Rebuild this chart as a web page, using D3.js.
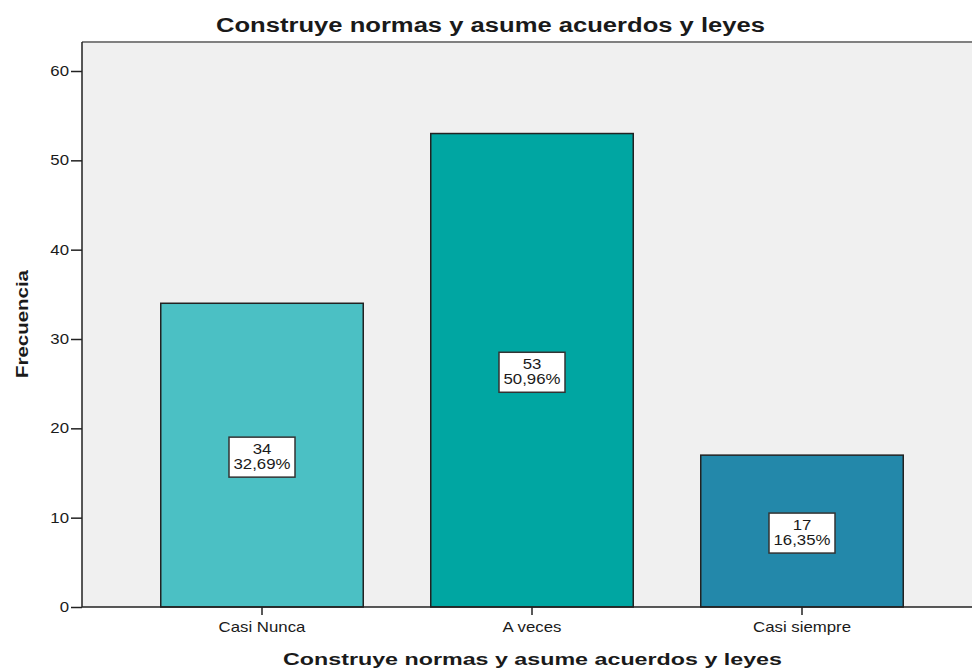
<!DOCTYPE html>
<html>
<head>
<meta charset="utf-8">
<script src="https://cdn.jsdelivr.net/npm/d3@7"></script>
<style>
  body { margin: 0; background: #fff; }
  svg text { font-family: "Liberation Sans", Arial, sans-serif; fill: #1a1a1a; }
</style>
</head>
<body>
<div id="graph"></div>
<script>
var categories = ["Casi Nunca", "A veces", "Casi siempre"];
var counts = [34, 53, 17];
var percents = ["32,69%", "50,96%", "16,35%"];
var colors = ["#4bc0c4", "#00a6a2", "#2388aa"];
var yTicks = [0, 10, 20, 30, 40, 50, 60];

var width = 972, height = 670;
var plotLeft = 82, plotTop = 42, plotBottom = 607;
var stretch = 1.2; // the reference text is widened a bit

var chart = d3.select("#graph").append("svg")
    .attr("width", width)
    .attr("height", height);

var x = d3.scaleBand()
    .domain(categories)
    .range([127, 937])
    .paddingInner(0.25)
    .paddingOuter(0.125);

var y = d3.scaleLinear()
    .domain([0, 60])
    .range([plotBottom, 71]);

// plot background
chart.append("rect")
    .attr("x", plotLeft).attr("y", plotTop)
    .attr("width", width - plotLeft).attr("height", plotBottom - plotTop)
    .attr("fill", "#f0f0f0");

// top border
chart.append("line")
    .attr("x1", plotLeft).attr("x2", width)
    .attr("y1", plotTop).attr("y2", plotTop)
    .attr("stroke", "#808080").attr("stroke-width", 2);

// bars
chart.selectAll("rect.bar")
    .data(counts)
    .enter()
    .append("rect")
    .attr("class", "bar")
    .attr("x", function(d, i) { return x(categories[i]); })
    .attr("y", function(d) { return y(d); })
    .attr("width", x.bandwidth())
    .attr("height", function(d) { return y(0) - y(d); })
    .attr("fill", function(d, i) { return colors[i]; })
    .attr("stroke", "#222")
    .attr("stroke-width", 1.5);

// y axis
var yAxis = chart.append("g")
    .attr("transform", "translate(" + plotLeft + ",0)")
    .call(d3.axisLeft(y).tickValues(yTicks).tickSize(11).tickPadding(2));
yAxis.select(".domain").attr("d", "M0," + plotTop + "V" + plotBottom);
yAxis.selectAll("line, path").attr("stroke", "#222").attr("stroke-width", 1.5);
yAxis.selectAll("text")
    .attr("font-size", "14px")
    .attr("font-family", "Liberation Sans, Arial, sans-serif")
    .attr("fill", "#1a1a1a")
    .attr("x", -13 / stretch)
    .attr("transform", "scale(" + stretch + ",1)");

// x axis
var xAxis = chart.append("g")
    .attr("transform", "translate(0," + plotBottom + ")")
    .call(d3.axisBottom(x).tickSize(8).tickPadding(7));
xAxis.select(".domain").attr("d", "M" + plotLeft + ",0H" + width);
xAxis.selectAll("line, path").attr("stroke", "#222").attr("stroke-width", 1.5);
xAxis.selectAll("text")
    .attr("font-size", "14px")
    .attr("font-family", "Liberation Sans, Arial, sans-serif")
    .attr("fill", "#1a1a1a")
    .attr("transform", "scale(" + stretch + ",1)");

// value labels
var labels = chart.selectAll("g.lab")
    .data(counts)
    .enter()
    .append("g")
    .attr("class", "lab")
    .attr("transform", function(d, i) {
        return "translate(" + (x(categories[i]) + x.bandwidth() / 2) + "," + (y(d / 2) + 2) + ")";
    });
labels.append("rect")
    .attr("x", -33).attr("y", -20)
    .attr("width", 66).attr("height", 40)
    .attr("fill", "#fff").attr("stroke", "#333").attr("stroke-width", 1.5);
labels.append("text")
    .attr("text-anchor", "middle").attr("y", -3)
    .attr("font-size", "14px")
    .attr("transform", "scale(" + stretch + ",1)")
    .text(function(d) { return d; });
labels.append("text")
    .attr("text-anchor", "middle").attr("y", 12)
    .attr("font-size", "14px")
    .attr("transform", "scale(" + stretch + ",1)")
    .text(function(d, i) { return percents[i]; });

// titles
chart.append("text")
    .attr("x", 216).attr("y", 32)
    .attr("font-size", "20px").attr("font-weight", "bold")
    .attr("textLength", 549).attr("lengthAdjust", "spacingAndGlyphs")
    .text("Construye normas y asume acuerdos y leyes");

chart.append("text")
    .attr("x", 283).attr("y", 665)
    .attr("font-size", "17px").attr("font-weight", "bold")
    .attr("textLength", 499).attr("lengthAdjust", "spacingAndGlyphs")
    .text("Construye normas y asume acuerdos y leyes");

chart.append("text")
    .attr("transform", "translate(28,378) rotate(-90)")
    .attr("font-size", "17px").attr("font-weight", "bold")
    .attr("textLength", 108).attr("lengthAdjust", "spacingAndGlyphs")
    .text("Frecuencia");
</script>
</body>
</html>
